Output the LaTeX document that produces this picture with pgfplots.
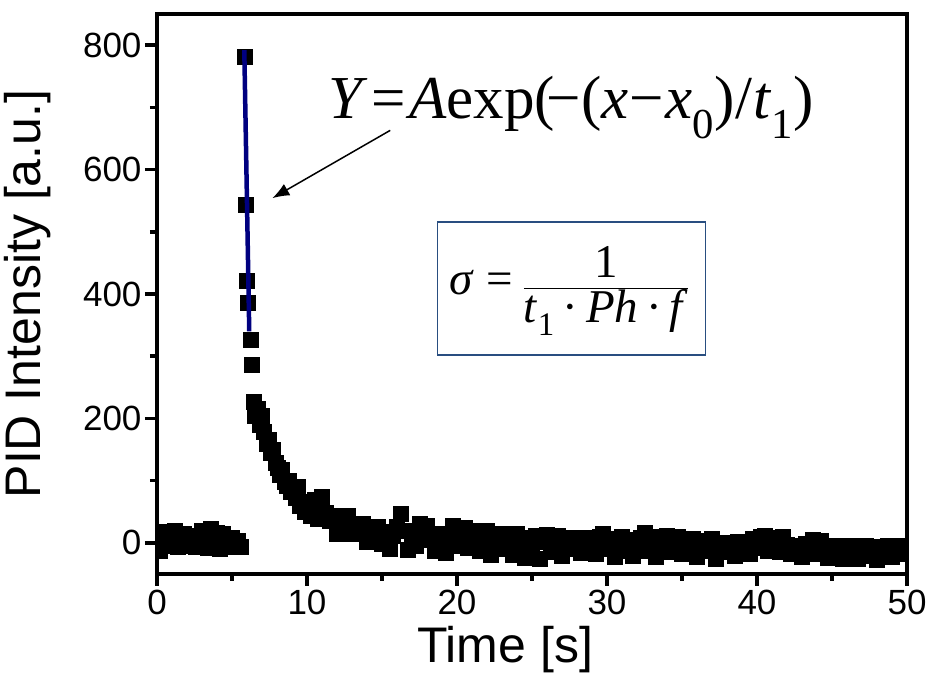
\documentclass[border=0pt]{standalone}
\usepackage{fontspec}
\setmainfont{Liberation Sans}
\newfontfamily\timesf{Liberation Serif}
\usepackage{pgfplots}
\pgfplotsset{compat=1.18}
\usetikzlibrary{arrows.meta}
\definecolor{boxblue}{RGB}{41,78,128}
\definecolor{fitblue}{RGB}{0,0,128}
\begin{document}
\begin{tikzpicture}
\begin{axis}[
  width=750pt, height=560pt, scale only axis,
  xmin=0, xmax=50, ymin=-50, ymax=850,
  xtick={0,10,...,50}, ytick={0,200,...,800},
  minor xtick={5,15,...,45}, minor ytick={100,300,...,700},
  xtick pos=left, ytick pos=left, tick align=outside,
  major tick length=12pt, minor tick length=7pt,
  every tick/.style={line width=3.5pt, black},
  axis line style={line width=4pt},
  /pgf/number format/assume math mode=true,
  tick label style={font=\fontsize{35}{35}\selectfont},
  xticklabel style={yshift=-1pt},
  label style={font=\fontsize{50}{50}\selectfont},
  xlabel={Time [s]}, ylabel={PID Intensity [a.u.]},
  xlabel style={at={(axis description cs:0.464,-0.135)}, anchor=center},
  ylabel style={at={(axis description cs:-0.172,0.5)}, anchor=center, rotate=0},
  clip marker paths=true,
]
\addplot[only marks, mark=square*, mark size=7.5pt, mark options={fill=black, draw=black, line width=0.6pt}] coordinates {
(0,2) (0.2,-12) (0.4,10) (0.6,18) (0.8,-4) (1.0,12) (1.2,19) (1.4,-6) (1.6,8) (1.8,15)
(2.0,-5) (2.2,4) (2.4,12) (2.6,-7) (2.8,6) (3.0,20) (3.2,10) (3.4,-8) (3.6,22) (3.8,3)
(4.0,16) (4.2,-9) (4.4,14) (4.6,4) (4.8,-7) (5.0,8) (5.2,-4) (5.4,3) (5.6,-6)
(5.87,782) (5.95,543) (5.99,422) (6.08,386) (6.24,326) (6.33,287)
(6.44,227) (6.55,205) (6.7,215) (6.85,190) (7.0,205) (7.15,178) (7.3,160) (7.45,165)
(7.6,145) (7.75,150) (7.9,128) (8.05,120) (8.2,110) (8.35,118) (8.5,98) (8.65,92)
(8.8,100) (8.95,82) (9.1,85) (9.25,72) (9.4,90) (9.55,60) (9.7,66) (9.85,50)
(10.0,58) (10.25,44) (10.5,70) (10.75,38) (11.0,74) (11.25,48) (11.5,36) (11.75,44)
(12.0,15) (12.25,40) (12.5,22) (12.75,44) (13.0,14) (13.25,30) (13.5,18) (13.75,31)
(14.0,2) (14.25,25) (14.5,10) (14.75,26) (15.0,-2) (15.25,18) (15.5,-10) (15.75,12)
(16.0,26) (16.25,47) (16.5,20) (16.75,-11) (17.0,14) (17.25,-5) (17.5,30) (17.75,12)
(18.0,28) (18.25,5) (18.5,-12) (18.75,15) (19.0,2) (19.25,-16) (19.5,8) (19.75,27)
(20.0,10) (20.25,-5) (20.5,24) (20.75,-8) (21.0,6) (21.25,19) (21.5,-12) (21.75,3)
(22.0,20) (22.25,-19) (22.5,9) (22.75,-4) (23.0,14) (23.25,-10) (23.5,5) (23.75,-19)
(24.0,14) (24.25,0) (24.5,-24) (24.75,8) (25.0,-6) (25.25,12) (25.5,-26) (25.75,2)
(26.0,13) (26.25,-14) (26.5,6) (26.75,12) (27.0,-20) (27.25,1) (27.5,8) (27.75,-10)
(28.0,4) (28.25,-16) (28.5,8) (28.75,-5) (29.0,2) (29.25,-18) (29.5,10) (29.75,14)
(30.0,-9) (30.25,6) (30.5,-22) (30.75,3) (31.0,10) (31.25,-13) (31.5,5) (31.75,-20)
(32.0,2) (32.25,8) (32.5,16) (32.75,-12) (33.0,4) (33.25,-23) (33.5,10) (33.75,-6)
(34.0,11) (34.25,-15) (34.5,3) (34.75,9) (35.0,-18) (35.25,2) (35.5,-8) (35.75,6)
(36.0,-22) (36.25,-4) (36.5,4) (36.75,-12) (37.0,6) (37.25,-26) (37.5,-2) (37.75,0)
(38.0,-15) (38.25,-6) (38.5,-20) (38.75,2) (39.0,-10) (39.25,-3) (39.5,-18) (39.75,6)
(40.0,-8) (40.25,10) (40.5,11) (40.75,-12) (41.0,8) (41.25,4) (41.5,-15) (41.75,10)
(42.0,-3) (42.25,-18) (42.5,-4) (42.75,-8) (43.0,-22) (43.25,-2) (43.5,-12) (43.75,5)
(44.0,-17) (44.25,4) (44.5,-6) (44.75,-24) (45.0,-5) (45.25,-14) (45.5,-4) (45.75,-26)
(46.0,-8) (46.25,-18) (46.5,-5) (46.75,-25) (47.0,-10) (47.25,-4) (47.5,-20) (47.75,-7)
(48.0,-27) (48.25,-6) (48.5,-15) (48.75,-5) (49.0,-22) (49.25,-10) (49.5,-4) (49.75,-18)
(50.0,-8)
};
\addplot[fitblue, line width=4.5pt] coordinates {(5.82,792) (5.95,615) (6.05,478) (6.15,340)};
\node[anchor=base] at (axis cs:27.6,682) {\timesf\fontsize{61}{61}\selectfont\textit{Y}\hspace{4pt}=\hspace{3pt}\textit{A}exp(\kern-8pt−(\textit{x}\kern1pt−\kern1pt\textit{x}\textsubscript{0})\kern1pt/\kern1pt\textit{t}\textsubscript{1})};
\draw[line width=1.5pt, -{Latex[length=17pt,width=13pt]}] (axis cs:15.55,663) -- (axis cs:7.69,554);
\node[draw=boxblue, line width=1.5pt, minimum width=268pt, minimum height=133pt, inner sep=0pt] at (axis cs:27.62,409) {};
\node at (axis cs:27.5,405)
  {\timesf\fontsize{47}{47}\selectfont\textit{σ}\hspace{12pt}=\hspace{10pt}$\displaystyle\frac{\mbox{1}}{\mbox{\textit{t}\textsubscript{1}\,·\,\textit{Ph}\,·\,\textit{f}}}$};
\end{axis}
\pgfresetboundingbox
\path[use as bounding box] ([shift={(-157pt,-114pt)}]current axis.south west) rectangle ([shift={(22pt,14pt)}]current axis.north east);
\end{tikzpicture}
\end{document}
